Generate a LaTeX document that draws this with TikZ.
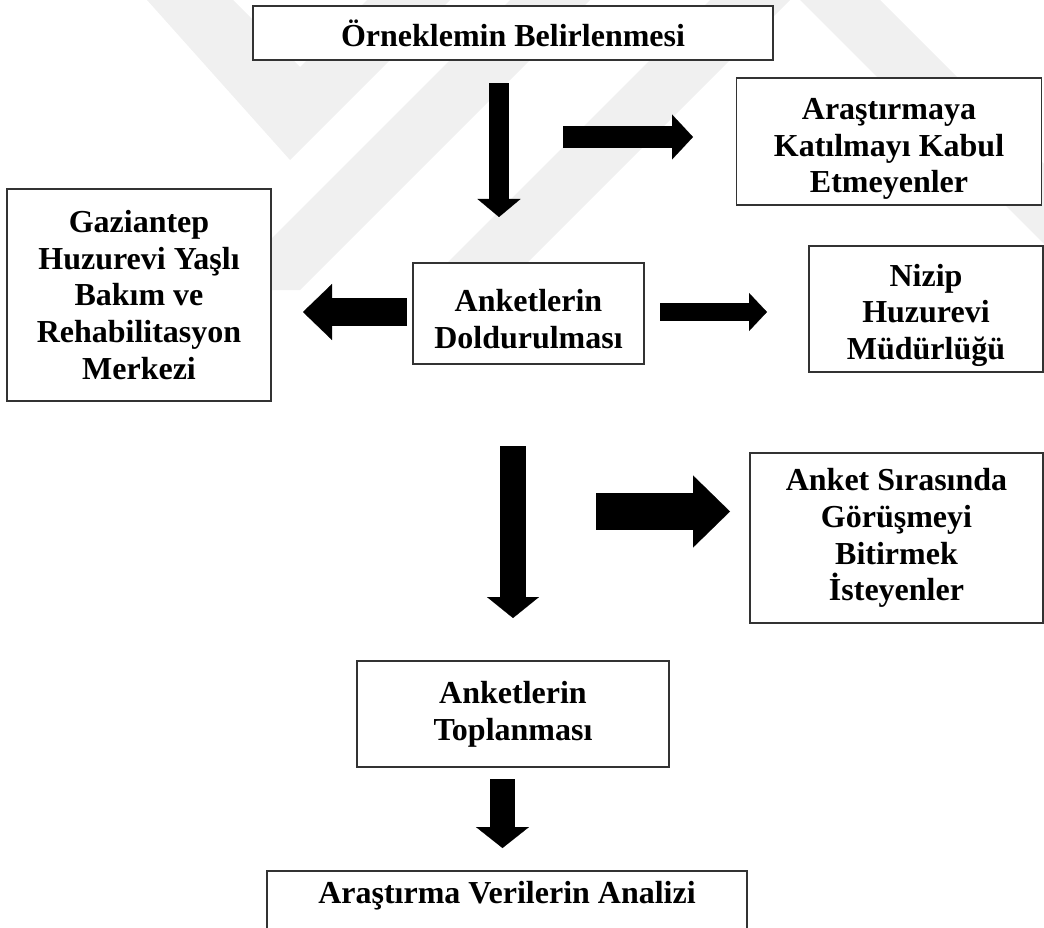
\documentclass[tikz,border=0pt]{standalone}
\usepackage{fontspec}
\setmainfont{Liberation Serif}
\usetikzlibrary{arrows.meta}

\tikzset{
  kutu/.style={draw=black!80, line width=1.3pt, fill=white, align=center,
    font=\fontsize{32}{36.7}\selectfont\bfseries, inner sep=0pt},
  okblok/.style n args={3}{line width=#1,
    -{Triangle[width=#2, length=#3, line width=0.1pt]}},
  filigran/.style={fill=black!6}
}

\begin{document}
\begin{tikzpicture}[x=1pt, y=-1pt]
  \useasboundingbox (0,0) rectangle (1044,928);

  % soluk filigran
  \begin{scope}
    \clip (0,0) rectangle (1044,928);
    \fill[filigran] (147,0) -- (233,0) -- (300,67) -- (367,0) -- (450,0) -- (290,160) -- cycle;
    \fill[filigran] (220,290) -- (510,0) -- (590,0) -- (300,290) -- cycle;
    \fill[filigran] (420,290) -- (710,0) -- (790,0) -- (500,290) -- cycle;
    \fill[filigran] (800,0) -- (880,0) -- (1044,164) -- (1044,244) -- cycle;
  \end{scope}

  % kutular
  \node[kutu, minimum width=520, minimum height=54] (orneklem) at (513,33) {Örneklemin Belirlenmesi};
  \node[kutu, minimum width=305, minimum height=127, text height=103pt, text depth=0pt]
    (kabul) at (889,141.5) {Araştırmaya\\Katılmayı Kabul\\Etmeyenler};
  \node[kutu, minimum width=264, minimum height=212] (gaziantep) at (139,295)
    {Gaziantep\\Huzurevi Yaşlı\\Bakım ve\\Rehabilitasyon\\Merkezi};
  \node[kutu, minimum width=231, minimum height=101, text height=69pt, text depth=0pt]
    (doldurma) at (528.5,313.5) {Anketlerin\\Doldurulması};
  \node[kutu, minimum width=234, minimum height=126, text height=101pt, text depth=0pt]
    (nizip) at (926,309) {Nizip\\Huzurevi\\Müdürlüğü};
  \node[kutu, minimum width=293, minimum height=170] (bitirme) at (896.5,538)
    {Anket Sırasında\\Görüşmeyi\\Bitirmek\\İsteyenler};
  \node[kutu, minimum width=312, minimum height=106] (toplama) at (513,714)
    {Anketlerin\\Toplanması};
  \node[kutu, minimum width=480, minimum height=69, text height=22pt, text depth=27pt]
    (analiz) at (507,905.5) {Araştırma Verilerin Analizi};

  % ok uçları
  \coordinate (o1a) at (499,83);    \coordinate (o1b) at (499,217);
  \coordinate (o2a) at (563,137);   \coordinate (o2b) at (693,137);
  \coordinate (o3a) at (407,312);   \coordinate (o3b) at (303,312);
  \coordinate (o4a) at (660,312);   \coordinate (o4b) at (767,312);
  \coordinate (o5a) at (513,446);   \coordinate (o5b) at (513,618);
  \coordinate (o6a) at (596,511.5); \coordinate (o6b) at (730,511.5);
  \coordinate (o7a) at (502.5,779); \coordinate (o7b) at (502.5,848);

  \draw[okblok={20pt}{43pt}{18pt}] (o1a) -- (o1b);
  \draw[okblok={22pt}{45pt}{21pt}] (o2a) -- (o2b);
  \draw[okblok={28pt}{56pt}{29pt}] (o3a) -- (o3b);
  \draw[okblok={18pt}{38pt}{18pt}] (o4a) -- (o4b);
  \draw[okblok={26pt}{52pt}{21pt}] (o5a) -- (o5b);
  \draw[okblok={37pt}{72pt}{37pt}] (o6a) -- (o6b);
  \draw[okblok={25pt}{53pt}{21pt}] (o7a) -- (o7b);
\end{tikzpicture}
\end{document}
